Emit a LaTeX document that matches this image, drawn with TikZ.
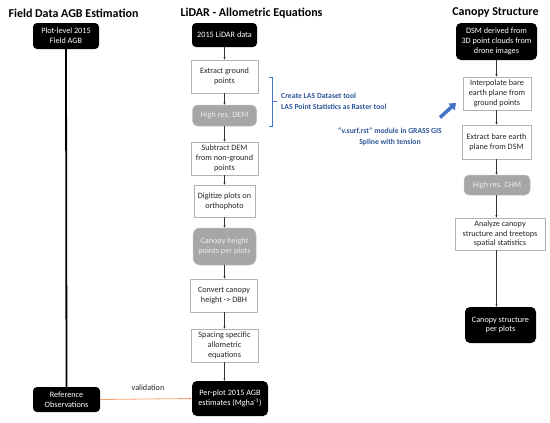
\documentclass[tikz,border=0pt]{standalone}
\usepackage{fontspec}
\setmainfont{Carlito}
\usetikzlibrary{arrows.meta,calc}
\definecolor{bluetext}{HTML}{2E5597}
\definecolor{bluearrow}{HTML}{4472C4}
\definecolor{orangeline}{HTML}{F4A070}
\definecolor{graybox}{HTML}{A6A6A6}
\definecolor{graytext}{HTML}{ECECEC}
\begin{document}
\begin{tikzpicture}[x=1pt,y=-1pt,
  boxtext/.style={font=\fontsize{8.2}{9.8}\selectfont, align=center, inner sep=0pt},
  blackbox/.style={boxtext, fill=black, rounded corners=4pt, text=white},
  whitebox/.style={boxtext, fill=white, draw=black!30, line width=0.7pt, text=black!85},
  graybox/.style={boxtext, fill=graybox, draw=black!25, line width=0.5pt, rounded corners=5pt, text=graytext},
  titletext/.style={font=\bfseries\fontsize{12}{14}\selectfont, inner sep=0pt},
  flow/.style={draw=black!80, line width=0.5pt, -{Stealth[length=2.5pt,width=2.2pt]}},
  annot/.style={font=\bfseries\fontsize{7.7}{10.5}\selectfont, text=bluetext, inner sep=0pt}
]
\useasboundingbox (0,0) rectangle (550,423);

% titles
\node[titletext] (t1) at (73.5,13) {Field Data AGB Estimation};
\node[titletext] (t2) at (251.5,13) {LiDAR - Allometric Equations};
\node[titletext] (t3) at (495.5,13) {Canopy Structure};

% left column
\node[blackbox, minimum width=66pt, minimum height=26pt] (a1) at (66,36) {Plot-level 2015\\Field AGB};
\node[blackbox, minimum width=67pt, minimum height=25pt] (a2) at (66.5,399.5) {Reference\\Observations};

% middle column
\node[blackbox, minimum width=65pt, minimum height=24pt] (m1) at (224.5,35) {2015 LiDAR data};
\node[whitebox, minimum width=67pt, minimum height=33pt] (m2) at (224.5,76.5) {Extract ground\\points};
\node[graybox, minimum width=64pt, minimum height=21pt] (m3) at (224.5,115.5) {High res. DEM};
\node[whitebox, minimum width=67pt, minimum height=33pt] (m4) at (224.5,158.5) {Subtract DEM\\from non-ground\\points};
\node[whitebox, minimum width=61pt, minimum height=32pt] (m5) at (224.5,201) {Digitize plots on\\orthophoto};
\node[graybox, minimum width=63pt, minimum height=37pt, rounded corners=7pt] (m6) at (224.5,246.5) {Canopy height\\points per plots};
\node[whitebox, minimum width=67pt, minimum height=33pt] (m7) at (224,295.5) {Convert canopy\\height -> DBH};
\node[whitebox, minimum width=67pt, minimum height=33pt] (m8) at (224.5,345.5) {Spacing specific\\allometric\\equations};
\node[blackbox, minimum width=76pt, minimum height=35pt, rounded corners=5pt] (m9) at (230,398.5) {Per-plot 2015 AGB\\estimates (Mgha\textsuperscript{-1})};

% right column
\node[blackbox, minimum width=81pt, minimum height=37pt, rounded corners=5pt] (r1) at (496.5,41.5) {DSM derived from\\3D point clouds from\\drone images};
\node[whitebox, minimum width=68pt, minimum height=33pt] (r2) at (497,93.5) {Interpolate bare\\earth plane from\\ground points};
\node[whitebox, minimum width=69pt, minimum height=34pt] (r3) at (496.5,142) {Extract bare earth\\plane from DSM};
\node[graybox, minimum width=66pt, minimum height=20pt] (r4) at (497,185) {High res. CHM};
\node[whitebox, minimum width=90pt, minimum height=32pt] (r5) at (500,234) {Analyze canopy\\structure and treetops\\spatial statistics};
\node[blackbox, minimum width=71pt, minimum height=36pt, rounded corners=5pt] (r6) at (500.5,325) {Canopy structure\\per plots};

% connector x positions
\coordinate (mx) at (224.5,0);
\coordinate (rx) at (496.5,0);

% middle flow
\draw[flow] (m1.south -| mx) -- (m2.north -| mx);
\draw[flow] (m2.south -| mx) -- (m3.north -| mx);
\draw[flow] (m3.south -| mx) -- (m4.north -| mx);
\draw[flow] (m4.south -| mx) -- (m5.north -| mx);
\draw[flow] (m5.south -| mx) -- (m6.north -| mx);
\draw[flow] (m6.south -| mx) -- (m7.north -| mx);
\draw[flow] (m7.south -| mx) -- (m8.north -| mx);
\draw[flow] (m8.south -| mx) -- (m9.north -| mx);

% right flow
\draw[flow] (r1.south -| rx) -- (r2.north -| rx);
\draw[flow] (r2.south -| rx) -- (r3.north -| rx);
\draw[flow] (r3.south -| rx) -- (r4.north -| rx);
\draw[flow] (r4.south -| rx) -- (r5.north -| rx);
\draw[flow] (r5.south -| rx) -- (r6.north -| rx);

% left thick line
\draw[line width=1.8pt, black] (a1.south) -- (a2.north);

% validation
\draw[orangeline, line width=0.8pt, -{Stealth[length=3pt,width=2.5pt]}] (a2.east) -- (m9.west);
\node[font=\fontsize{8.2}{9.8}\selectfont, text=black!85, inner sep=0pt] (val) at (148,388) {validation};

% blue bracket and annotations
\coordinate (bt) at (269,77);
\coordinate (bb) at (269,126);
\draw[bluearrow, line width=0.7pt] (bt) -- ++(3.5,0) -- ($(bb)+(3.5,0)$) -- (bb);
\draw[bluearrow, line width=0.7pt] ($(bt)!0.5!(bb)+(3.5,0)$) -- ++(4,0);
\node[annot, anchor=west, align=left] (n1) at (281,101.5) {Create LAS Dataset tool\\LAS Point Statistics as Raster tool};
\node[annot, align=center] (n2) at (390,137) {“v.surf.rst” module in GRASS GIS\\Spline with tension};
\coordinate (ba1) at (440,117.5);
\coordinate (ba2) at (456,103);
\draw[bluearrow, line width=3.5pt, -{Triangle[length=6pt,width=9pt]}] (ba1) -- (ba2);
\end{tikzpicture}
\end{document}
